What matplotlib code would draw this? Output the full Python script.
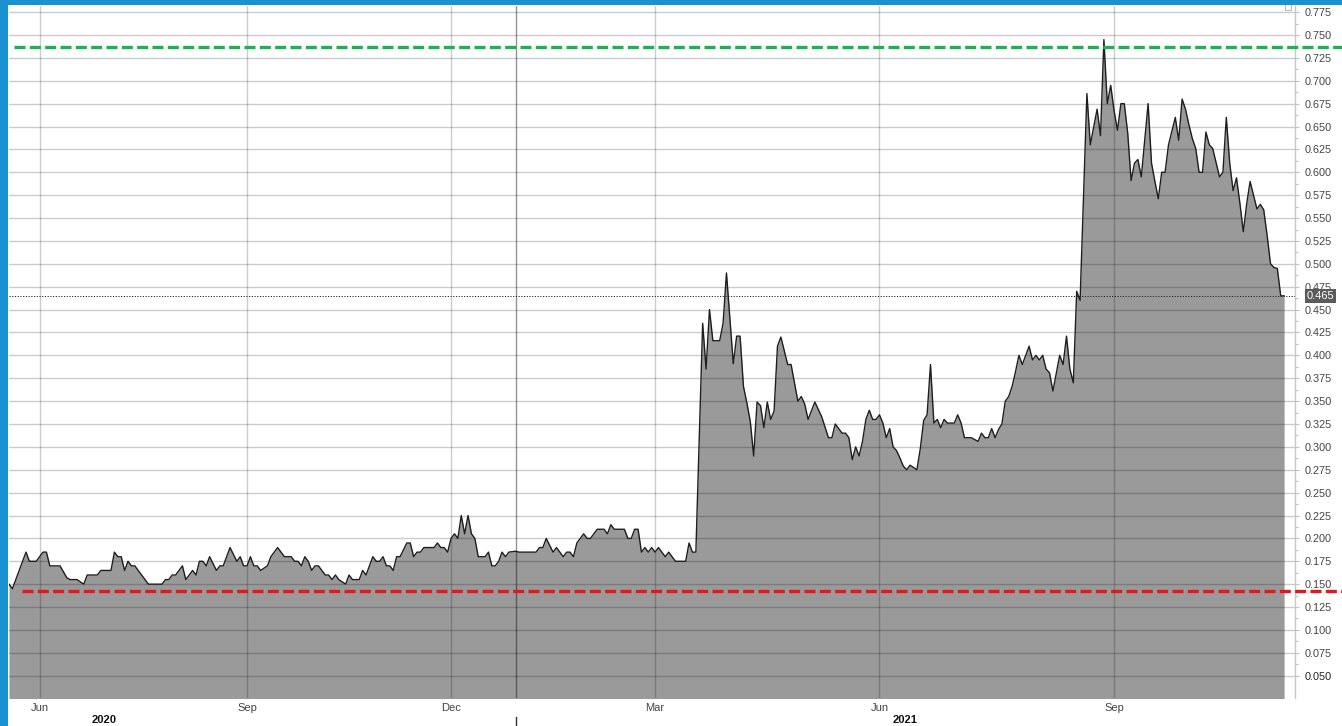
import matplotlib
matplotlib.use('Agg')
import matplotlib.pyplot as plt
import numpy as np
from matplotlib.transforms import blended_transform_factory
from matplotlib.patches import Rectangle
from matplotlib.lines import Line2D

plt.rcParams['font.family'] = ['Liberation Sans', 'DejaVu Sans']

# ---- data: trading-session index and closing price ----
session = [
    0, 1, 2, 4, 5, 6, 8, 9, 10, 11,
    12, 15, 17, 18, 20, 22, 23, 26, 27, 30,
    31, 32, 33, 34, 35, 36, 37, 41, 45, 46,
    47, 48, 49, 51, 52, 54, 55, 56, 57, 58,
    59, 61, 62, 63, 65, 67, 68, 69, 70, 71,
    72, 73, 74, 76, 77, 79, 81, 83, 84, 85,
    86, 87, 88, 89, 90, 91, 93, 94, 95, 96,
    97, 99, 100, 101, 103, 104, 105, 107, 108, 109,
    110, 111, 112, 113, 114, 115, 117, 118, 119, 120,
    121, 122, 125, 126, 127, 128, 129, 130, 131, 132,
    133, 134, 135, 136, 137, 138, 140, 141, 142, 143,
    144, 145, 146, 147, 149, 150, 155, 156, 157, 158,
    160, 161, 162, 163, 164, 165, 166, 167, 169, 170,
    171, 173, 175, 176, 177, 178, 181, 182, 183, 184,
    185, 186, 187, 188, 189, 190, 191, 193, 194, 196,
    199, 200, 201, 202,
    204, 205, 206, 207, 209, 210, 211, 212, 213, 214,
    215, 216, 217, 218, 219, 220, 221, 222, 223, 224,
    225, 226, 227, 229, 230, 231, 232, 233, 234, 235,
    237, 239, 241, 242, 243, 245, 246, 247, 248, 249,
    250, 251, 252, 253, 254, 255, 256, 257, 258, 259,
    260, 261, 262, 263, 264, 265, 267, 268, 269, 270,
    271, 272, 273, 274, 275, 276, 278, 279, 280, 281,
    283, 285, 286, 287, 288, 289, 290, 291, 292, 293,
    294, 295, 296, 297, 298, 299, 300, 301, 302, 303,
    304, 305, 306, 307, 309, 310, 311, 312, 313, 314,
    315, 317, 318, 320, 321, 322, 323, 324, 325, 326,
    327, 328, 329, 330, 331, 332, 333, 334, 335, 336,
    337, 338, 339, 340, 341, 343, 344, 345, 346, 347,
    348, 349, 350, 351, 352, 353, 354, 356, 357, 358,
    359, 360, 361, 362, 363, 364, 365, 366, 367, 368,
    369, 370, 371, 372, 373, 374, 375,
]
price = [
    0.150, 0.145, 0.155, 0.175, 0.185, 0.175, 0.175, 0.180, 0.185, 0.185,
    0.170, 0.170, 0.157, 0.155, 0.155, 0.150, 0.160, 0.160, 0.165, 0.165,
    0.185, 0.180, 0.180, 0.165, 0.175, 0.170, 0.170, 0.150, 0.150, 0.155,
    0.155, 0.160, 0.160, 0.170, 0.155, 0.165, 0.160, 0.175, 0.175, 0.170,
    0.180, 0.165, 0.170, 0.170, 0.190, 0.175, 0.180, 0.170, 0.170, 0.180,
    0.170, 0.170, 0.165, 0.170, 0.180, 0.190, 0.180, 0.180, 0.175, 0.175,
    0.170, 0.180, 0.175, 0.165, 0.170, 0.170, 0.160, 0.160, 0.155, 0.160,
    0.155, 0.150, 0.160, 0.155, 0.155, 0.165, 0.160, 0.180, 0.175, 0.175,
    0.180, 0.170, 0.170, 0.165, 0.180, 0.180, 0.195, 0.195, 0.180, 0.185,
    0.185, 0.190, 0.190, 0.195, 0.190, 0.190, 0.185, 0.200, 0.205, 0.200,
    0.225, 0.205, 0.225, 0.205, 0.200, 0.180, 0.180, 0.185, 0.170, 0.170,
    0.175, 0.185, 0.180, 0.185, 0.186, 0.185, 0.185, 0.190, 0.190, 0.200,
    0.185, 0.190, 0.185, 0.180, 0.185, 0.185, 0.180, 0.195, 0.205, 0.200,
    0.200, 0.210, 0.210, 0.205, 0.215, 0.210, 0.210, 0.200, 0.200, 0.210,
    0.210, 0.185, 0.190, 0.185, 0.190, 0.185, 0.190, 0.180, 0.185, 0.175,
    0.175, 0.195, 0.185, 0.185,
    0.435, 0.385, 0.450, 0.416, 0.416, 0.435, 0.490, 0.441, 0.391, 0.421,
    0.421, 0.366, 0.348, 0.328, 0.290, 0.349, 0.345, 0.321, 0.349, 0.330,
    0.339, 0.410, 0.420, 0.390, 0.390, 0.370, 0.350, 0.355, 0.347, 0.330,
    0.349, 0.333, 0.310, 0.310, 0.325, 0.315, 0.315, 0.310, 0.286, 0.300,
    0.290, 0.306, 0.330, 0.340, 0.330, 0.330, 0.335, 0.326, 0.310, 0.320,
    0.300, 0.296, 0.288, 0.279, 0.275, 0.280, 0.275, 0.298, 0.329, 0.335,
    0.390, 0.326, 0.330, 0.321, 0.330, 0.326, 0.326, 0.335, 0.326, 0.310,
    0.310, 0.306, 0.315, 0.310, 0.310, 0.320, 0.310, 0.319, 0.325, 0.350,
    0.355, 0.366, 0.382, 0.400, 0.390, 0.400, 0.410, 0.395, 0.400, 0.395,
    0.400, 0.385, 0.381, 0.361, 0.400, 0.390, 0.421, 0.385, 0.370, 0.470,
    0.460, 0.686, 0.630, 0.669, 0.640, 0.745, 0.675, 0.695, 0.667, 0.646,
    0.675, 0.675, 0.643, 0.591, 0.610, 0.614, 0.595, 0.635, 0.675, 0.610,
    0.590, 0.571, 0.600, 0.600, 0.630, 0.660, 0.635, 0.680, 0.669, 0.652,
    0.637, 0.626, 0.600, 0.600, 0.644, 0.630, 0.626, 0.595, 0.600, 0.660,
    0.610, 0.580, 0.594, 0.566, 0.535, 0.566, 0.590, 0.575, 0.560, 0.565,
    0.559, 0.531, 0.500, 0.496, 0.495, 0.465, 0.465,
]
assert len(session) == len(price)

# month boundaries (session index of first trading day) and labels
month_pos = [9, 70, 130, 190, 256, 325]
month_lab = ['Jun', 'Sep', 'Dec', 'Mar', 'Jun', 'Sep']
year_sep = 149
year_lab = ['2020', '2021']
year_pos = [28, 263.5]

last_price = 0.465
resistance = 0.737
support = 0.143

ytick_vals = np.round(np.arange(0.050, 0.7751, 0.025), 3)

# ---- figure ----
W, H = 1342, 726
fig = plt.figure(figsize=(W / 100, H / 100), dpi=100)
fig.patch.set_facecolor('white')
x0, x1, yb, yt = 9, 1295, 698.3, 6
ax = fig.add_axes([x0 / W, 1 - yb / H, (x1 - x0) / W, (yb - yt) / H])
ax.set_facecolor('white')

ax.fill_between(session, price, 0, color='#9a9a9a', lw=0, zorder=1)
ax.plot(session, price, color='#1e1e1e', lw=1.0, zorder=3)

ax.set_xlim(0, 378.2)
ax.set_ylim(0.0253, 0.7817)

# grid
ax.set_axisbelow(False)
ax.grid(True, which='major', color='black', alpha=0.2, lw=1.0)
ax.axvline(year_sep, color='black', alpha=0.42, lw=1.0, zorder=2.6)

# x axis
ax.set_xticks(month_pos)
ax.set_xticklabels(month_lab)
ax.tick_params(axis='x', length=0, pad=3.5, labelsize=8, labelcolor='#444444')
tr_x = blended_transform_factory(ax.transData, ax.transAxes)
for lab, pos in zip(year_lab, year_pos):
    ax.text(pos, (yb - 720) / (yb - yt), lab, transform=tr_x, ha='center',
            va='center', fontsize=8, fontweight='bold', color='#111111')
ax.add_line(Line2D([year_sep, year_sep],
                   [(yb - 717) / (yb - yt), (yb - 727) / (yb - yt)],
                   transform=tr_x, color='#333333', lw=1.0, clip_on=False))

# y axis on right
ax.yaxis.tick_right()
ax.set_yticks(ytick_vals)
ax.set_yticklabels([f'{v:.3f}' for v in ytick_vals])
ax.set_yticks(ytick_vals[:-1] + 0.0125, minor=True)
ax.tick_params(axis='y', which='both', length=3, color='#c4c4c4', width=0.8,
               pad=4, labelsize=7.8, labelcolor='#444444')
ax.tick_params(axis='y', which='minor', length=2)
for t in ax.get_yticklabels():
    if t.get_text() == '0.050':
        t.set_color('#222222')

for s in ['top', 'left', 'bottom']:
    ax.spines[s].set_visible(False)
ax.spines['right'].set_color('#c8c8c8')
ax.spines['right'].set_linewidth(1.0)

# reference lines
tr_y = blended_transform_factory(ax.transAxes, ax.transData)
ax.add_line(Line2D([0.004, 1.05], [resistance, resistance], transform=tr_y,
                   color='#1bb24f', lw=2.4, ls=(0, (3.3, 1.3)), clip_on=False,
                   zorder=5))
ax.add_line(Line2D([(22 - x0) / (x1 - x0), 1.05], [support, support],
                   transform=tr_y, color='#e5161d', lw=2.4,
                   ls=(0, (3.3, 1.3)), clip_on=False, zorder=5))
ax.axhline(last_price, color='#222222', lw=0.7, ls=(0, (1.2, 1.6)), zorder=4)
ax.text((1307 - x0) / (x1 - x0), last_price, f'{last_price:.3f}', transform=tr_y,
        ha='left', va='center', fontsize=8, color='white',
        bbox=dict(facecolor='#5a5a5a', edgecolor='none', pad=1.3))

# small box at top right of plot
fig.patches.append(Rectangle((1285 / W, 1 - 10 / H), 6 / W, 6 / H,
                             transform=fig.transFigure, facecolor='white',
                             edgecolor='#bbbbbb', lw=0.8, zorder=9))
# blue frame bars
blue = '#1b92d0'
fig.patches.append(Rectangle((0, 0), 8 / W, 1, transform=fig.transFigure,
                             facecolor=blue, edgecolor='none', zorder=10))
fig.patches.append(Rectangle((0, 1 - 5 / H), 1, 5 / H, transform=fig.transFigure,
                             facecolor=blue, edgecolor='none', zorder=10))

fig.savefig('out.png', dpi=100, facecolor='white')
